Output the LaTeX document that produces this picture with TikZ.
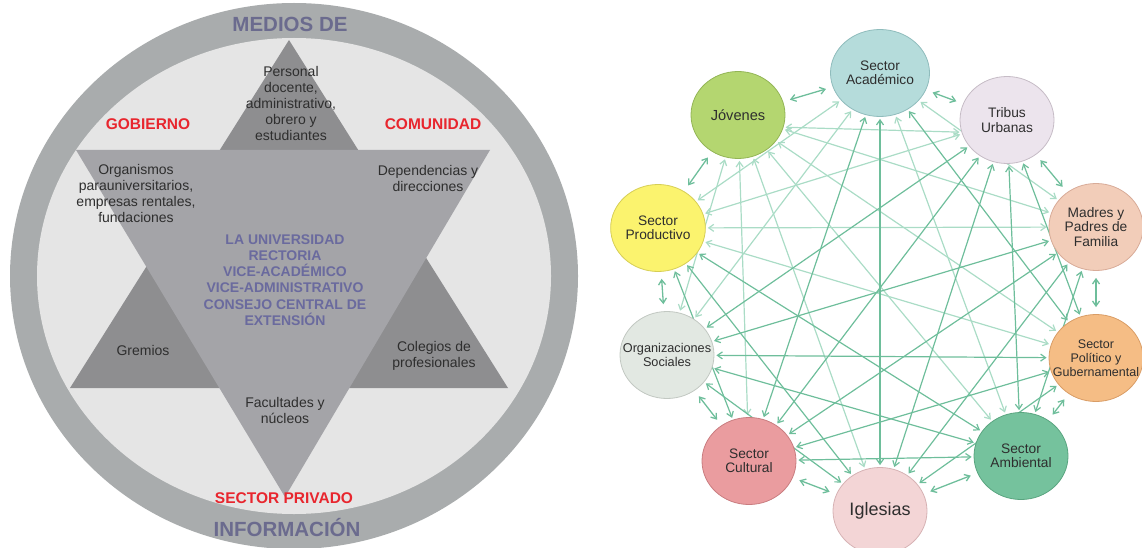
\documentclass[tikz,border=0pt]{standalone}
\usepackage{fontspec}
\setmainfont{Liberation Sans}
\usetikzlibrary{arrows.meta, shapes.geometric, backgrounds}

\definecolor{anillo}{HTML}{A9ACAD}
\definecolor{interior}{HTML}{E5E5E5}
\definecolor{trioscuro}{HTML}{8E8E90}
\definecolor{triclaro}{HTML}{A4A4A8}
\definecolor{textogris}{HTML}{2E2E2E}
\definecolor{morado}{HTML}{6A6A9E}
\definecolor{moradogris}{HTML}{6B6B8E}
\definecolor{rojo}{HTML}{E8262E}
\definecolor{verdeosc}{HTML}{6EBE9B}
\definecolor{verdeclaro}{HTML}{AADCC6}
% colores de los actores
\definecolor{acadfill}{HTML}{B5DCDB}    \definecolor{acadline}{HTML}{8FBCBC}
\definecolor{tribfill}{HTML}{ECE4ED}    \definecolor{tribline}{HTML}{C6BCC6}
\definecolor{madrfill}{HTML}{F2CDB9}    \definecolor{madrline}{HTML}{D8AB98}
\definecolor{poltfill}{HTML}{F5BD85}    \definecolor{poltline}{HTML}{D99D66}
\definecolor{ambifill}{HTML}{75C29D}    \definecolor{ambiline}{HTML}{5AA580}
\definecolor{iglefill}{HTML}{F3D5D6}    \definecolor{igleline}{HTML}{D6B2B4}
\definecolor{cultfill}{HTML}{EA9C9F}    \definecolor{cultline}{HTML}{C97D80}
\definecolor{orgafill}{HTML}{E2E8E2}    \definecolor{orgaline}{HTML}{C2C8C2}
\definecolor{prodfill}{HTML}{FBF36E}    \definecolor{prodline}{HTML}{D6CE55}
\definecolor{jovefill}{HTML}{B4D670}    \definecolor{joveline}{HTML}{93B556}

\begin{document}
\begin{tikzpicture}[x=1pt, y=-1pt,
        etiqueta/.style={
            font=\fontsize{14}{16}\selectfont,
            text=textogris,
            align=center,
            inner sep=0pt
        },
        central/.style={
            font=\bfseries\fontsize{14}{16.2}\selectfont,
            text=morado,
            align=center,
            inner sep=0pt
        },
        sector/.style={font=\bfseries\fontsize{15.5}{18}\selectfont, text=rojo, inner sep=0pt},
        medios/.style={font=\bfseries\fontsize{20.5}{24}\selectfont, text=moradogris, inner sep=0pt},
        actor/.style={
            ellipse,
            minimum width=94pt,
            minimum height=87pt,
            inner sep=1pt,
            align=center,
            line width=0.8pt,
            text=textogris,
            font=\fontsize{13.75}{14.5}\selectfont
        },
        ancho/.style={inner xsep=-12pt},
        flecha/.style={{Straight Barb[length=5pt,width=7pt]}-{Straight Barb[length=5pt,width=7pt]},
            line width=1.2pt, draw=verdeosc, shorten >=2pt, shorten <=2pt},
        flechaclara/.style={flecha, draw=verdeclaro},
        vecina/.style={flecha, line width=1.3pt, shorten >=7pt, shorten <=7pt}
    ]
        \useasboundingbox (0,0) rectangle (1142,548);
        \clip (0,0) rectangle (1142,548);

        % estrella de la universidad
        \fill[anillo] (294,276) ellipse [x radius=284pt, y radius=273pt];
        \fill[interior] (294,276) ellipse [x radius=257pt, y radius=238pt];
        \fill[trioscuro] (289,40) -- (508,388) -- (70,388) -- cycle;
        \fill[triclaro] (76,150) -- (490,150) -- (285,497) -- cycle;

        \node[medios] (medios) at (290,24) {MEDIOS DE};
        \node[medios] (informacion) at (287,528) {INFORMACIÓN};
        \node[sector] (gobierno) at (148,124) {GOBIERNO};
        \node[sector] (comunidad) at (433,124) {COMUNIDAD};
        \node[sector] (privado) at (284,498) {SECTOR PRIVADO};

        \node[etiqueta] (personal) at (291,103)
            {Personal\\docente,\\administrativo,\\obrero y\\estudiantes};
        \node[etiqueta] (organismos) at (136,193)
            {Organismos\\parauniversitarios,\\empresas rentales,\\fundaciones};
        \node[etiqueta] (dependencias) at (428,178)
            {Dependencias y\\direcciones};
        \node[central] (universidad) at (285,280)
            {LA UNIVERSIDAD\\RECTORIA\\VICE-ACADÉMICO\\VICE-ADMINISTRATIVO\\CONSEJO CENTRAL DE\\EXTENSIÓN};
        \node[etiqueta] (gremios) at (143,350) {Gremios};
        \node[etiqueta] (colegios) at (434,356) {Colegios de\\profesionales};
        \node[etiqueta] (facultades) at (285,410) {Facultades y\\núcleos};

        % red de actores
        \node[actor, fill=acadfill, draw=acadline] (acad) at (880,73) {Sector\\Académico};
        \node[actor, fill=tribfill, draw=tribline] (tribus) at (1007,120) {Tribus\\Urbanas};
        \node[actor, fill=madrfill, draw=madrline] (madres) at (1096,227) {Madres y\\Padres de\\Familia};
        \node[actor, ancho, fill=poltfill, draw=poltline,
            font=\fontsize{12.5}{14}\selectfont] (politico) at (1096,358) {Sector\\Político y\\Gubernamental};
        \node[actor, fill=ambifill, draw=ambiline] (ambiental) at (1021,456) {Sector\\Ambiental};
        \node[actor, fill=iglefill, draw=igleline,
            font=\fontsize{18}{20}\selectfont] (iglesias) at (880,511) {Iglesias};
        \node[actor, fill=cultfill, draw=cultline] (cultural) at (749,461) {Sector\\Cultural};
        \node[actor, ancho, fill=orgafill, draw=orgaline,
            font=\fontsize{12.7}{14}\selectfont] (organiz) at (667,355) {Organizaciones\\Sociales};
        \node[actor, fill=prodfill, draw=prodline] (productivo) at (658,228) {Sector\\Productivo};
        \node[actor, fill=jovefill, draw=joveline,
            font=\fontsize{14.6}{16}\selectfont] (jovenes) at (738,115) {Jóvenes};

        \begin{pgfonlayer}{background}
            % vecinos en el anillo
            \foreach \a/\b in {acad/tribus, tribus/madres, madres/politico, politico/ambiental,
                ambiental/iglesias, iglesias/cultural, cultural/organiz, organiz/productivo,
                productivo/jovenes, jovenes/acad}
                \draw[vecina] (\a) -- (\b);

            % relaciones cruzadas
            \draw[flechaclara] (jovenes.-15) -- (tribus.195);
            \foreach \a/\b in {jovenes/madres, jovenes/politico, jovenes/ambiental, jovenes/iglesias,
                jovenes/cultural, jovenes/organiz, productivo/acad, productivo/tribus,
                productivo/madres, productivo/politico, acad/madres, acad/ambiental, organiz/acad}
                \draw[flechaclara] (\a) -- (\b);
            \foreach \a/\b in {tribus/politico, madres/ambiental, politico/iglesias, ambiental/cultural,
                iglesias/organiz, cultural/productivo, acad/politico, tribus/ambiental,
                madres/iglesias, politico/cultural, ambiental/organiz, iglesias/productivo,
                tribus/iglesias, madres/cultural, politico/organiz, ambiental/productivo,
                cultural/acad, organiz/tribus, acad/iglesias, tribus/cultural, madres/organiz}
                \draw[flecha] (\a) -- (\b);
        \end{pgfonlayer}
    \end{tikzpicture}
\end{document}
